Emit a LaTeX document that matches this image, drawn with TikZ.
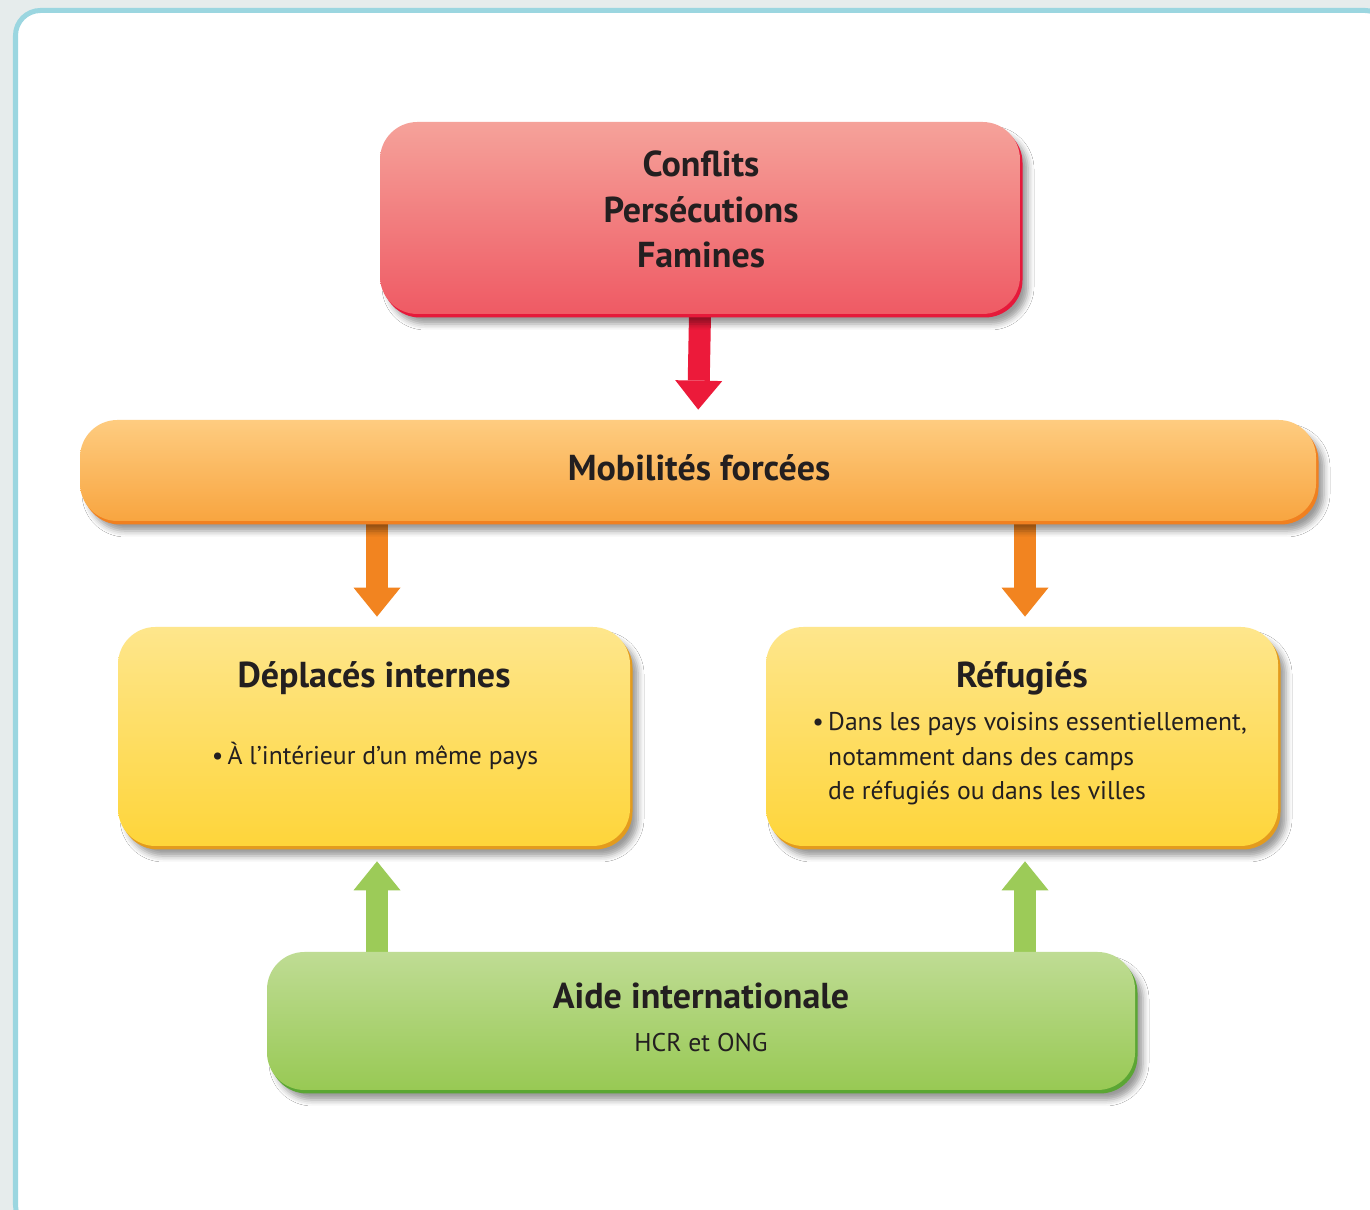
\documentclass[tikz,border=0pt]{standalone}
\usepackage{fontspec}
\setmainfont{PT Sans}
\usetikzlibrary{arrows.meta,shadows,shadows.blur,positioning}

\definecolor{fondgris}{HTML}{E6ECEC}
\definecolor{cadrebleu}{HTML}{9BD6E0}
\definecolor{texte}{HTML}{231F20}
\definecolor{rougehaut}{HTML}{F5A29A}
\definecolor{rougebas}{HTML}{EF5A64}
\definecolor{rougebord}{HTML}{E6193A}
\definecolor{orangehaut}{HTML}{FECC80}
\definecolor{orangebas}{HTML}{F8A540}
\definecolor{orangebord}{HTML}{F08020}
\definecolor{jaunehaut}{HTML}{FEE68C}
\definecolor{jaunebas}{HTML}{FED53A}
\definecolor{jaunebord}{HTML}{E39B1E}
\definecolor{verthaut}{HTML}{BFDC94}
\definecolor{vertbas}{HTML}{98C954}
\definecolor{vertbord}{HTML}{5BA634}
\definecolor{rougefleche}{HTML}{EC1A3A}
\definecolor{orangefleche}{HTML}{F28420}
\definecolor{vertfleche}{HTML}{9CCB58}

\pgfdeclarelayer{background}
\pgfsetlayers{background,main}

\tikzset{
  boite/.style n args={3}{rounded corners=0.75cm, inner sep=0pt,
    top color=#1, bottom color=#2,
    blur shadow={shadow xshift=0.16cm, shadow yshift=-0.2cm,
      shadow blur radius=0.12cm, shadow opacity=40},
    drop shadow={fill=#3, opacity=1, shadow xshift=0.05cm, shadow yshift=-0.07cm}},
  titre/.style={font=\bfseries\fontsize{20.5}{25.9}\selectfont, text=texte, inner sep=0pt},
  corps/.style={font=\fontsize{14.6}{19.9}\selectfont, text=texte, inner sep=0pt},
  fleche/.style={line width=0.44cm, -{Triangle[width=0.94cm,length=0.58cm,line width=0pt]}},
  cadre/.style={draw=cadrebleu, fill=white, line width=0.1cm, rounded corners=0.5cm}
}

\begin{document}
\begin{tikzpicture}
\useasboundingbox (0,0) rectangle (27.4,24.2);

% boites
\node[boite={rougehaut}{rougebas}{rougebord}, minimum width=12.8cm, minimum height=3.84cm] (conflits) at (14.0,19.84) {};
\node[boite={orangehaut}{orangebas}{orangebord}, minimum width=24.72cm, minimum height=2.02cm] (mobilites) at (13.96,14.79) {};
\node[boite={jaunehaut}{jaunebas}{jaunebord}, minimum width=10.24cm, minimum height=4.38cm] (deplaces) at (7.48,9.47) {};
\node[boite={jaunehaut}{jaunebas}{jaunebord}, minimum width=10.24cm, minimum height=4.38cm] (refugies) at (20.44,9.47) {};
\node[boite={verthaut}{vertbas}{vertbord}, minimum width=17.36cm, minimum height=2.76cm] (aide) at (14.02,3.78) {};

% textes
\foreach \mot/\y [count=\i] in {Conflits/20.66,Persécutions/19.74,Famines/18.84}
  \node[titre, anchor=base] (cause\i) at (14.02,\y) {\mot};
\node[titre, anchor=base] (t-mobilites) at (13.98,14.58) {Mobilités forcées};
\node[titre, anchor=base] (t-deplaces) at (7.48,10.44) {Déplacés internes};
\node[corps, anchor=base] (b-deplaces) at (7.50,8.90) {•\,À l’intérieur d’un même pays};
\node[titre, anchor=base] (t-refugies) at (20.44,10.44) {Réfugiés};
\node[corps, anchor=base west, align=left] (b-refugies) at (16.24,8.20)
  {•\,Dans les pays voisins essentiellement,\\\hphantom{•\,}notamment dans des camps\\\hphantom{•\,}de réfugiés ou dans les villes};
\node[titre, anchor=base] (t-aide) at (14.02,4.02) {Aide internationale};
\node[corps, anchor=base] (b-aide) at (14.02,3.16) {HCR et ONG};

\begin{pgfonlayer}{background}
\clip (0,0) rectangle (27.4,24.2);
\fill[fondgris] (0,0) rectangle (27.4,24.2);
\draw[cadre] (0.31,23.99) rectangle (27.8,-0.4);
% fleches
\draw[fleche, rougefleche, shorten >=0.2cm] (conflits.south) -- (mobilites.north);
\foreach \b in {deplaces,refugies}{
  \draw[fleche, orangefleche, shorten >=0.2cm] ([xshift=0.06cm]\b.north |- mobilites.south) -- ([xshift=0.06cm]\b.north);
  \draw[fleche, vertfleche, shorten >=0.3cm] ([xshift=0.06cm]\b.south |- aide.north) -- ([xshift=0.06cm]\b.south);
}
\end{pgfonlayer}
\end{tikzpicture}
\end{document}
